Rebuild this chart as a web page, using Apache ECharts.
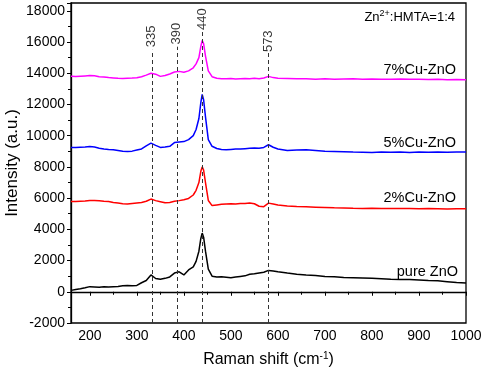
<!DOCTYPE html>
<html>
<head>
<meta charset="utf-8">
<script src="https://cdn.jsdelivr.net/npm/echarts@6/dist/echarts.min.js"></script>
<style>
html,body{margin:0;padding:0;background:#fff;}
#chart{width:484px;height:369px;}
</style>
</head>
<body>
<div id="chart"></div>
<script>
// Raman shift (cm-1)
const ramanShift = [160,170,180,190,200,210,220,230,240,250,260,270,280,290,300,310,320,330,340,350,360,370,380,390,400,410,420,426,432,436,439,442,446,452,460,470,480,490,500,510,520,530,540,550,560,570,580,590,600,620,640,660,680,700,720,740,760,780,800,820,840,860,880,900,920,940,960,980,1000];

const pureZnO = [90,150,200,260,330,310,290,320,300,320,340,380,400,390,410,580,720,1080,850,800,860,950,1200,1280,1080,1400,1600,1950,2600,3400,3760,3500,2600,1450,1000,950,960,930,900,940,980,1020,1120,1150,1200,1250,1370,1330,1280,1200,1130,1080,1050,980,960,920,900,880,860,840,810,790,780,750,720,700,650,600,560];

const cu2ZnO = [5790,5780,5800,5820,5850,5840,5830,5800,5780,5720,5680,5640,5620,5660,5690,5720,5800,5940,5840,5770,5700,5720,5800,5840,5900,5980,6200,6500,7000,7700,8000,7800,7000,5850,5520,5560,5600,5620,5640,5620,5660,5650,5690,5640,5480,5450,5680,5620,5560,5500,5460,5440,5420,5400,5380,5370,5350,5340,5350,5340,5330,5340,5330,5320,5330,5320,5310,5320,5320];

const cu5ZnO = [9250,9240,9260,9270,9300,9280,9200,9150,9120,9100,9050,9000,8990,9010,9080,9150,9350,9520,9380,9250,9270,9320,9560,9600,9620,9750,10000,10400,11100,12100,12650,12300,11200,9750,9320,9180,9120,9100,9120,9140,9150,9170,9190,9210,9200,9250,9420,9260,9150,9050,9080,9100,9050,9000,8990,8970,8950,8940,8930,8950,8940,8960,8930,8950,8940,8950,8940,8960,8950];

const cu7ZnO = [13800,13790,13810,13830,13850,13840,13780,13760,13720,13700,13680,13670,13680,13690,13710,13780,13880,14000,13940,13800,13850,13950,14080,14120,14060,14150,14350,14600,15000,15700,16100,15900,15100,14150,13780,13680,13650,13640,13660,13630,13650,13660,13640,13680,13650,13700,13800,13720,13680,13660,13640,13650,13620,13640,13620,13630,13640,13620,13630,13610,13620,13630,13610,13620,13600,13610,13590,13600,13590];

const seriesNames = ['pure ZnO','2%Cu-ZnO','5%Cu-ZnO','7%Cu-ZnO'];
const seriesColors = ['#000000','#ff0000','#0000ff','#ff00ff'];

// peak markers
const peakLabels = ['335','390','440','573'];
const peakPositions = [332,385,439,580];
const peakLineTop = [15500,15700,16700,15300];
const peakLabelY = [16360,16540,17470,16050];

const yTicks = {min:-2000, max:18500, interval:2000};

const chart = echarts.init(document.getElementById('chart'), null, {renderer:'canvas'});
const allData = [pureZnO, cu2ZnO, cu5ZnO, cu7ZnO];
const FONT = 'Liberation Sans, Arial, sans-serif';

const series = allData.map((arr, k) => ({
  name: seriesNames[k],
  type: 'line',
  showSymbol: false,
  symbol: 'none',
  data: ramanShift.map((x, i) => [x, arr[i]]),
  lineStyle: {color: seriesColors[k], width: 1.5},
  itemStyle: {color: seriesColors[k]},
  z: 3,
  silent: true
}));

series.push({
  type: 'line',
  data: [],
  silent: true,
  markLine: {
    silent: true,
    symbol: 'none',
    label: {show: false},
    lineStyle: {color: '#333', type: [4, 3], width: 1},
    data: peakPositions.map((x, i) => [{coord: [x, yTicks.min]}, {coord: [x, peakLineTop[i]]}])
  }
});

series.push({
  type: 'scatter',
  silent: true,
  symbolSize: 2,
  itemStyle: {color: 'rgba(0,0,0,0)'},
  data: peakPositions.map((x, i) => [x, peakLabelY[i]]),
  label: {
    show: true,
    position: 'inside',
    rotate: 90,
    color: '#000',
    fontSize: 13,
    fontFamily: FONT,
    formatter: p => peakLabels[p.dataIndex]
  },
  z: 5
});

chart.setOption({
  animation: false,
  backgroundColor: '#fff',
  grid: {left: 71, right: 18, top: 3, bottom: 46, containLabel: false, outerBoundsMode: 'none', show: true, borderColor: '#000', borderWidth: 1.3, backgroundColor: 'transparent'},
  xAxis: {
    type: 'value',
    min: 160, max: 1000, splitNumber: 8,
    name: '{a|Raman shift (cm}{s|-1}{a|)}',
    nameLocation: 'middle',
    nameGap: 28,
    nameMoveOverlap: false,
    nameTextStyle: {
      rich: {
        a: {fontSize: 16, fontFamily: FONT, color: '#000'},
        s: {fontSize: 10, fontFamily: FONT, color: '#000', verticalAlign: 'top', padding: [0,0,8,0]}
      }
    },
    axisLine: {lineStyle: {color: '#000', width: 1.3}},
    axisTick: {show: true, inside: false, length: 4, lineStyle: {color: '#000'}},
    minorTick: {show: true, splitNumber: 2, length: 3, lineStyle: {color: '#000'}},
    axisLabel: {color: '#000', fontSize: 14, fontFamily: FONT, margin: 6, showMinLabel: false, formatter: v => String(v)},
    splitLine: {show: false}
  },
  yAxis: {
    type: 'value',
    min: yTicks.min, max: yTicks.max, interval: yTicks.interval,
    name: 'Intensity (a.u.)',
    nameLocation: 'middle',
    nameGap: 50,
    nameMoveOverlap: false,
    nameTextStyle: {fontSize: 17, fontFamily: FONT, color: '#000'},
    axisLine: {lineStyle: {color: '#000', width: 1.3}},
    axisTick: {show: true, inside: false, length: 4, lineStyle: {color: '#000'}},
    minorTick: {show: true, splitNumber: 2, length: 3, lineStyle: {color: '#000'}},
    axisLabel: {color: '#000', fontSize: 14, fontFamily: FONT, margin: 6, showMaxLabel: false, formatter: v => String(v)},
    splitLine: {show: false}
  },
  graphic: [
    {type: 'text', x: 455, y: 17, z: 10, style: {
      text: '{a|Zn}{s|2+}{a|:HMTA=1:4}',
      align: 'right', verticalAlign: 'middle',
      rich: {
        a: {fontSize: 13, fontFamily: FONT, fill: '#000', color: '#000'},
        s: {fontSize: 9, fontFamily: FONT, fill: '#000', color: '#000', verticalAlign: 'top', padding: [0,0,7,0]}
      }
    }},
    {type: 'text', x: 456, y: 70, z: 10, style: {text: seriesNames[3], font: '14.5px ' + FONT, fill: '#000', align: 'right', verticalAlign: 'middle'}},
    {type: 'text', x: 456, y: 143, z: 10, style: {text: seriesNames[2], font: '14.5px ' + FONT, fill: '#000', align: 'right', verticalAlign: 'middle'}},
    {type: 'text', x: 456, y: 198, z: 10, style: {text: seriesNames[1], font: '14.5px ' + FONT, fill: '#000', align: 'right', verticalAlign: 'middle'}},
    {type: 'text', x: 458, y: 272, z: 10, style: {text: seriesNames[0], font: '14.5px ' + FONT, fill: '#000', align: 'right', verticalAlign: 'middle'}}
  ],
  series: series
});
</script>
</body>
</html>
